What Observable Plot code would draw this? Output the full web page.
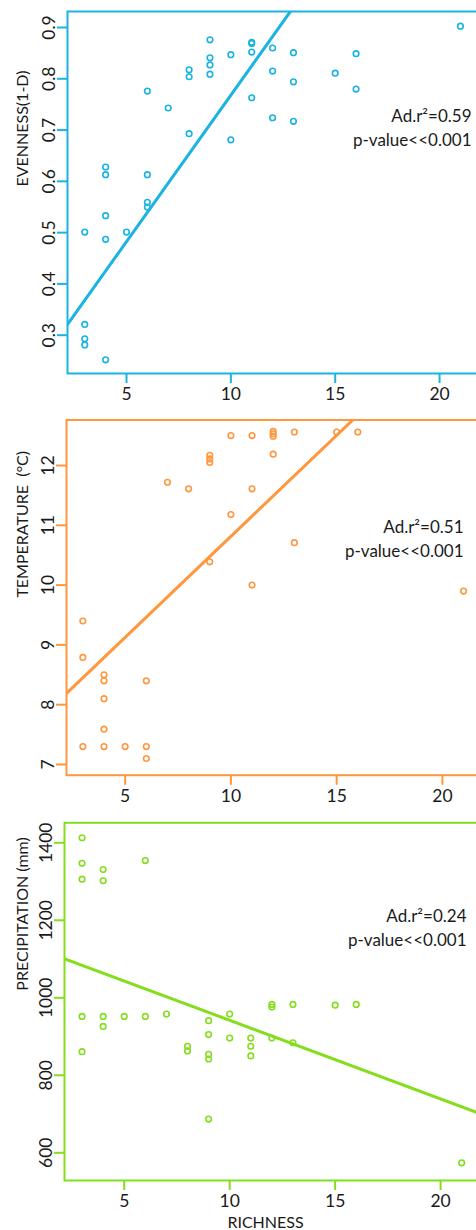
<!DOCTYPE html>
<html><head><meta charset="utf-8">
<script src="https://cdn.jsdelivr.net/npm/d3@7"></script>
<script src="https://cdn.jsdelivr.net/npm/@observablehq/plot@0.6"></script>
<style>
html,body{margin:0;padding:0;background:#fff;overflow:hidden;}
#wrap{position:relative;width:476px;height:1230px;overflow:hidden;background:#fff;}
.panel{position:absolute;left:0;width:480px;}
.panel svg{max-width:none !important;}
</style></head><body><div id="wrap"></div>
<script>
// ---- data ----
const xTicks = [5, 10, 15, 20];

const evenRichness = [3,3,3,3, 4,4,4,4,4, 5, 6,6,6,6, 7, 8,8,8, 9,9,9,9, 10,10, 11,11,11,11, 12,12,12, 13,13,13, 15, 16,16, 21];
const evenValues = [0.501,0.321,0.293,0.281, 0.628,0.613,0.533,0.487,0.252, 0.501, 0.776,0.613,0.559,0.550, 0.743, 0.8175,0.804,0.693, 0.876,0.841,0.827,0.809, 0.847,0.681, 0.871,0.869,0.852,0.763, 0.860,0.815,0.724, 0.851,0.794,0.717, 0.811, 0.849,0.780, 0.9025];
const evenTicks = [0.3, 0.4, 0.5, 0.6, 0.7, 0.8, 0.9];
const evenFitX = [2.0, 13.2];
const evenFitY = [0.311, 0.951];

const tempRichness = [3,3,3, 4,4,4,4,4, 5, 6,6,6, 7, 8, 9,9,9,9, 10,10, 11,11,11, 12,12,12,12, 13,13, 15, 16, 21];
const tempValues = [9.40,8.79,7.30, 8.50,8.40,8.10,7.59,7.30, 7.30, 8.40,7.30,7.10, 11.72, 11.61, 12.17,12.11,12.05,10.39, 12.50,11.18, 12.50,11.61,10.00, 12.57,12.53,12.49,12.19, 12.56,10.71, 12.56, 12.56, 9.90];
const tempTicks = [7, 8, 9, 10, 11, 12];
const tempFitX = [2.0, 16.5];
const tempFitY = [8.113, 13.011];

const precRichness = [3,3,3,3,3, 4,4,4,4, 5, 6,6, 7, 8,8, 9,9,9,9,9, 10,10, 11,11,11, 12,12,12, 13,13, 15, 16, 21];
const precValues = [1413,1347,1306,952,861, 1331,1302,952,926, 952, 1354,952, 958, 875,863, 941,905,854,842,687, 958,896, 896,875,850, 983,976,896, 983,884, 981, 983, 574];
const precTicks = [600, 800, 1000, 1200, 1400];
const precFitX = [2.0, 22.0];
const precFitY = [1104.2, 698.6];

const panels = [
  {top: 0, height: 410, mt: 11, mb: 37, ml: 67, xd: [2.173, 21.914], yd: [0.2253, 0.9312],
   color: "#1AB3E2", rx: evenRichness, vy: evenValues, ticks: evenTicks, fx: evenFitX, fy: evenFitY,
   title: "EVENNESS(1-D)", titleDy: -6, stat: "Ad.r²=0.59\np-value<<0.001", sdx: -8, sdy: 94, xlabel: null},
  {top: 400, height: 410, mt: 19.5, mb: 35.3, ml: 66, xd: [2.227, 21.754], yd: [6.821, 12.761],
   color: "#FF973E", rx: tempRichness, vy: tempValues, ticks: tempTicks, fx: tempFitX, fy: tempFitY,
   title: "TEMPERATURE  (°C)", titleDy: 0, stat: "Ad.r²=0.51\np-value<<0.001", sdx: -16, sdy: 96.5, xlabel: null},
  {top: 800, height: 430, mt: 22.3, mb: 50, ml: 64, xd: [2.167, 21.845], yd: [528.5, 1451.6],
   color: "#84DE1E", rx: precRichness, vy: precValues, ticks: precTicks, fx: precFitX, fy: precFitY,
   title: "PRECIPITATION (mm)", titleDy: -11, stat: "Ad.r²=0.24\np-value<<0.001", sdx: -13, sdy: 83, xlabel: "RICHNESS"}
];

const wrap = document.getElementById("wrap");
for (const p of panels) {
  const pts = p.rx.map((r, i) => ({r, v: p.vy[i]}));
  const fit = p.fx.map((x, i) => ({x, y: p.fy[i]}));
  const marks = [
    Plot.line(fit, {x: "x", y: "y", stroke: p.color, strokeWidth: 3, clip: true}),
    Plot.dot(pts, {x: "r", y: "v", r: 2.8, stroke: p.color, strokeWidth: 1.6, fill: "none"}),
    Plot.frame({stroke: p.color, strokeWidth: 2}),
    Plot.axisX(xTicks, {tickSize: 10, tickPadding: 4, stroke: p.color, strokeWidth: 2, fill: "#1a1a1a", label: null, fontSize: 17.5, tickFormat: d => String(d)}),
    Plot.axisY(p.ticks, {tickSize: 10, tickRotate: -90, stroke: p.color, strokeWidth: 2, fill: "#1a1a1a", label: null, fontSize: 17.5, tickFormat: d => String(d)}),
    Plot.text([p.title], {text: d => d, frameAnchor: "left", rotate: -90, dx: -(p.ml - 22), dy: p.titleDy, lineAnchor: "middle", fill: "#1a1a1a", fontSize: 16}),
    Plot.text([p.stat], {text: d => d, frameAnchor: "top-right", textAnchor: "end", lineAnchor: "top", lineHeight: 1.38, dx: p.sdx, dy: p.sdy, fill: "#1a1a1a", fontSize: 17})
  ];
  if (p.xlabel) {
    marks.push(Plot.text([p.xlabel], {text: d => d, frameAnchor: "bottom", lineAnchor: "middle", dy: 42, dx: -6.5, fill: "#1a1a1a", fontSize: 16}));
  }
  const chart = Plot.plot({
    width: 480, height: p.height,
    marginLeft: p.ml, marginRight: 1, marginTop: p.mt, marginBottom: p.mb,
    x: {domain: p.xd, axis: null},
    y: {domain: p.yd, axis: null},
    style: {fontFamily: "Lato, 'Open Sans', sans-serif", fontSize: "17px", background: "transparent", overflow: "visible", color: "#1a1a1a", maxWidth: "none"},
    marks
  });
  const div = document.createElement("div");
  div.className = "panel";
  div.style.top = p.top + "px";
  div.appendChild(chart);
  wrap.appendChild(div);
}
</script>
</body></html>
